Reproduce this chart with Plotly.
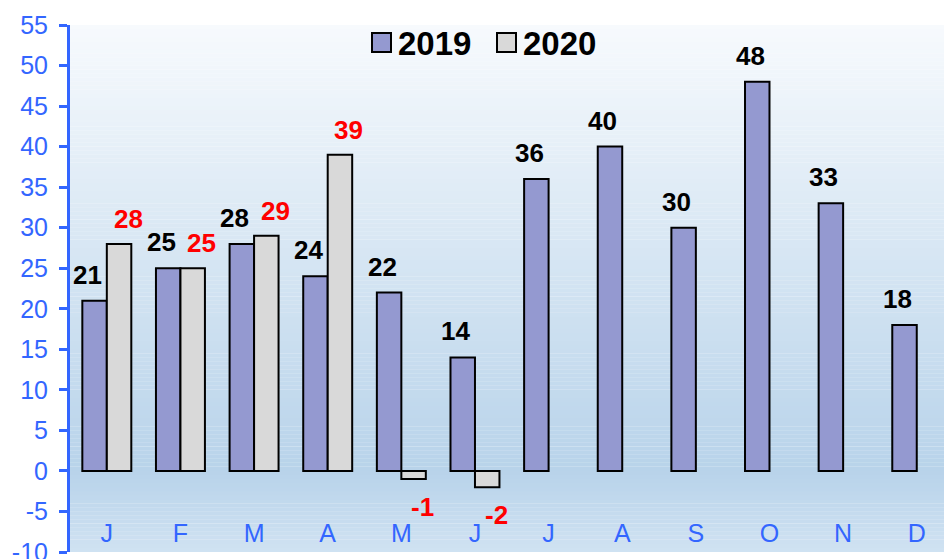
import plotly.graph_objects as go

months = ["J", "F", "M", "A", "M", "J", "J", "A", "S", "O", "N", "D"]
vals_2019 = [21, 25, 28, 24, 22, 14, 36, 40, 30, 48, 33, 18]
vals_2020 = [28, 25, 29, 39, -1, -2, None, None, None, None, None, None]
y_ticks = list(range(-10, 56, 5))
y_ticktext = [str(v) for v in y_ticks]

BLUE = "#3366FF"
C2019 = "#9499D0"
C2020 = "#D9D9D9"
FONT = "Liberation Sans, Arial, sans-serif"

W, H = 944, 559
ML, MR, MT, MB = 70, 0, 25, 7
YMIN, YMAX = -10, 55
XMIN, XMAX = -0.5, 11.37
BARGAP = 0.335
bar_w = (1 - BARGAP) / 2

xs = list(range(len(months)))

fig = go.Figure()
fig.add_trace(go.Bar(x=xs, y=vals_2019, name="2019", marker=dict(color=C2019, line=dict(color="black", width=2)), showlegend=False))
fig.add_trace(go.Bar(x=xs, y=vals_2020, name="2020", marker=dict(color=C2020, line=dict(color="black", width=2)), showlegend=False))

# background gradient (style only)
def lerp(c1, c2, t):
    return tuple(round(a + (b - a) * t) for a, b in zip(c1, c2))

top_c = (247, 250, 253)
mid_c = (184, 211, 234)
bot_c = (208, 226, 242)
shapes = []
n = 130
step = (YMAX - YMIN) / n
for k in range(n):
    y0 = YMIN + k * step
    y1 = y0 + step
    ym = (y0 + y1) / 2
    if ym >= 0:
        c = lerp(mid_c, top_c, ym / YMAX)
    else:
        c = lerp(mid_c, bot_c, ym / YMIN)
    shapes.append(dict(type="rect", xref="paper", yref="y", x0=0, x1=1, y0=y0, y1=y1 + step * 0.05,
                       fillcolor="rgb(%d,%d,%d)" % c, line=dict(width=0), layer="below"))

# manual legend
pw = W - ML - MR
ph = H - MT - MB
def px_x(p):
    return (p - ML) / pw
def px_y(p):
    return (H - MB - p) / ph

annotations = []
for name, col, sx in [("2019", C2019, 372), ("2020", C2020, 497)]:
    shapes.append(dict(type="rect", xref="paper", yref="paper", x0=px_x(sx), x1=px_x(sx + 19),
                       y0=px_y(52), y1=px_y(33), fillcolor=col, line=dict(color="black", width=2), layer="above"))
    annotations.append(dict(xref="paper", yref="paper", x=px_x(sx + 24), y=px_y(43), text="<b>%s</b>" % name,
                            showarrow=False, xanchor="left", yanchor="middle",
                            font=dict(family=FONT, size=33, color="black")))

# data labels
for i, v in enumerate(vals_2019):
    if v is None:
        continue
    annotations.append(dict(x=i - bar_w / 2, y=v, xref="x", yref="y", text="<b>%d</b>" % v, showarrow=False,
                            xanchor="center", yanchor="middle", xshift=-7, yshift=26 if v >= 0 else -28,
                            font=dict(family=FONT, size=26, color="black")))
for i, v in enumerate(vals_2020):
    if v is None:
        continue
    annotations.append(dict(x=i + bar_w / 2, y=v, xref="x", yref="y", text="<b>%d</b>" % v, showarrow=False,
                            xanchor="center", yanchor="middle", xshift=9, yshift=25 if v >= 0 else -28,
                            font=dict(family=FONT, size=26, color="#FF0000")))

fig.update_layout(
    width=W, height=H,
    margin=dict(l=ML, r=MR, t=MT, b=MB, pad=0, autoexpand=False),
    paper_bgcolor="white",
    plot_bgcolor="rgba(0,0,0,0)",
    barmode="group", bargap=BARGAP, bargroupgap=0,
    shapes=shapes, annotations=annotations,
    xaxis=dict(range=[XMIN, XMAX], tickmode="array", tickvals=xs, ticktext=months,
               ticks="", showline=False, showgrid=False, zeroline=False, automargin=False,
               anchor="free", position=px_y(516), ticklabeloverflow="allow",
               tickfont=dict(family=FONT, size=25, color=BLUE)),
    xaxis2=dict(overlaying="x", anchor="free", position=(0 - YMIN) / (YMAX - YMIN),
                range=[XMIN, XMAX], tickmode="array", tickvals=[i + 0.5 for i in xs[:-1]],
                ticks="outside", ticklen=6, tickwidth=2.5, tickcolor=BLUE, automargin=False,
                showline=True, linecolor=BLUE, linewidth=2.5, showticklabels=False,
                showgrid=False, zeroline=False),
    yaxis=dict(range=[YMIN, YMAX], tickmode="array", tickvals=y_ticks, ticktext=y_ticktext,
               ticks="outside", ticklen=8, tickwidth=2.5, tickcolor=BLUE, automargin=False,
               showline=True, linecolor=BLUE, linewidth=3, showgrid=False, zeroline=False,
               ticklabelstandoff=6, ticklabeloverflow="allow",
               tickfont=dict(family=FONT, size=25, color=BLUE)),
)

fig.write_html("out.html", config={"displayModeBar": False},
               post_script="document.body.style.margin='0';")
